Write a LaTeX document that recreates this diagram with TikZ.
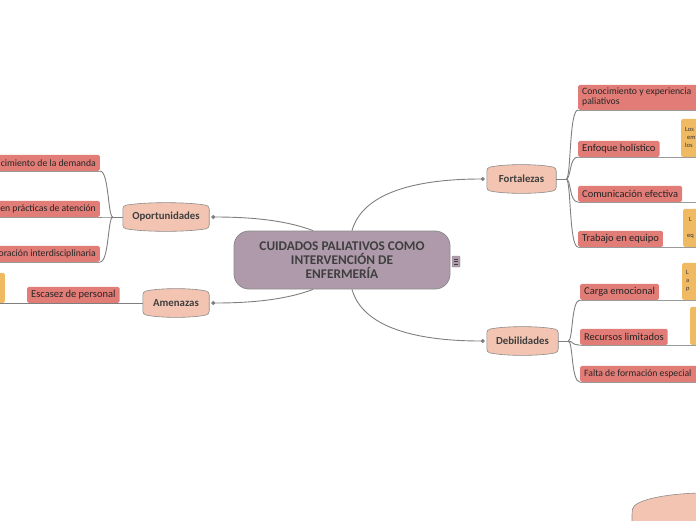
\documentclass[tikz,border=0pt]{standalone}
\usepackage{fontspec}
\setmainfont{Carlito}
\usetikzlibrary{arrows.meta,backgrounds,calc}
\definecolor{centralfill}{HTML}{AE9AAA}
\definecolor{topicfill}{HTML}{F2C4B1}
\definecolor{subfill}{HTML}{E27C76}
\definecolor{notefill}{HTML}{F0BA62}
\definecolor{linkgray}{HTML}{7F7F7F}
\definecolor{ulgray}{HTML}{9A9A9A}
\definecolor{bordergray}{HTML}{8C8C8C}
\definecolor{textdark}{HTML}{3F3F3F}
\newcommand{\topicpath}[1]{%
  \path[topicshape] (#1.north west) .. controls ([yshift=4pt]$(#1.north west)!.25!(#1.north east)$) and ([yshift=4pt]$(#1.north west)!.75!(#1.north east)$) .. (#1.north east) -- (#1.south east) .. controls ([yshift=-4pt]$(#1.south west)!.75!(#1.south east)$) and ([yshift=-4pt]$(#1.south west)!.25!(#1.south east)$) .. (#1.south west) -- cycle;}
\newcommand{\rtext}[1]{\makebox[124pt][r]{#1}}
\newcommand{\ltext}[1]{\makebox[124pt][l]{#1}}
\begin{document}
\begin{tikzpicture}[x=1pt,y=-1pt,
  central/.style={rounded corners=15pt, fill=centralfill, draw=bordergray, line width=0.8pt, minimum width=216pt, minimum height=58pt, inner sep=0pt, align=center, font=\bfseries\fontsize{13.3}{14}\selectfont, text=textdark},
  topic/.style={minimum height=22pt, inner sep=0pt, font=\bfseries\fontsize{10.8}{12}\selectfont, text=textdark},
  topicshape/.style={fill=topicfill, draw=bordergray, line width=0.6pt, rounded corners=3pt},
  sub/.style={fill=subfill, rounded corners=1.5pt, minimum height=16pt, inner xsep=4pt, inner ysep=0pt, font=\fontsize{10.5}{11.5}\selectfont, text=black!85},
  subsmall/.style={sub, font=\fontsize{9.7}{11.5}\selectfont},
  note/.style={fill=notefill, rounded corners=1.5pt, inner xsep=4pt, inner ysep=2pt, text width=50pt, font=\fontsize{6.5}{8}\selectfont, text=black!80, align=left},
  icon/.style={fill=centralfill, draw=bordergray, line width=0.4pt, rounded corners=1pt, minimum width=8pt, minimum height=11pt, inner sep=0pt},
  link/.style={draw=linkgray, line width=0.9pt},
  ul/.style={draw=ulgray, line width=0.8pt},
  dot/.style={-{Circle[length=4pt]}}
]
\useasboundingbox (0,0) rectangle (696,520);

% central topic
\node[central] (C) at (342,260) {CUIDADOS PALIATIVOS COMO\\INTERVENCIÓN DE\\ENFERMERÍA};
\node[icon] (ic) at (456,261.5) {};
\foreach \dy in {-2.5,0,2.5}{\draw[textdark, line width=0.5pt] ([xshift=-2pt,yshift=\dy pt]ic.center) -- ([xshift=2pt,yshift=\dy pt]ic.center);}

% main topics
\node[topic, minimum width=69pt] (F) at (521.5,179) {Fortalezas};
\node[topic, minimum width=71pt] (D) at (522.5,341) {Debilidades};
\node[topic, minimum width=86pt] (O) at (166,217) {Oportunidades};
\node[topic, minimum width=66pt] (A) at (176,303) {Amenazas};
\begin{scope}[on background layer]
  \topicpath{F}\topicpath{D}\topicpath{O}\topicpath{A}
  \path[topicshape] (632,525) -- (632,512) .. controls (634,500) and (665,494) .. (700,493) -- (700,525) -- cycle;
\end{scope}

% main connectors
\draw[link, dot] ([xshift=10pt]C.north) .. controls (362,195) and (410,179) .. ([xshift=-2pt]F.west);
\draw[link, dot] ([xshift=10pt]C.south) .. controls (362,325) and (410,341) .. ([xshift=-2pt]D.west);
\draw[link, dot] ([xshift=-29pt]C.north) .. controls (285,220) and (250,217) .. ([xshift=2pt]O.east);
\draw[link, dot] ([xshift=-29pt]C.south) .. controls (285,300) and (250,303) .. ([xshift=2pt]A.east);

% Fortalezas subtopics
\node[subsmall, anchor=south west, minimum height=25pt] (conoc) at (578,110) {\ltext{\begin{tabular}{@{}l@{}}Conocimiento y experiencia\\[-1.5pt]paliativos\end{tabular}}};
\node[sub, anchor=south west] (enf) at (578,157) {Enfoque holístico};
\node[sub, anchor=south west] (com) at (578,202) {Comunicación efectiva};
\node[sub, anchor=south west] (trab) at (578,247) {Trabajo en equipo};
\node[note, anchor=south west, minimum height=38pt] (enfN) at (681,157) {Los\\\hspace*{2pt}em\\los};
\node[note, anchor=south west, minimum height=38pt] (trabN) at (683,247) {\hspace*{2pt}L\\\mbox{}\\eq};
\coordinate (comR) at (700,202);

% Debilidades subtopics
\node[sub, anchor=south west] (carga) at (580,300) {Carga emocional};
\node[sub, anchor=south west] (rec) at (580,345) {Recursos limitados};
\node[subsmall, anchor=south west] (falta) at (580,382) {\ltext{Falta de formación especial}};
\node[note, anchor=south west, minimum height=37pt] (cargaN) at (682,300) {L\\a\\p};
\node[note, anchor=south west, minimum height=38pt] (recN) at (690,345) {};

% Oportunidades subtopics
\node[subsmall, anchor=south east] (crec) at (100,171) {\rtext{cimiento de la demanda}};
\node[subsmall, anchor=south east] (prac) at (100,217) {\rtext{en prácticas de atención}};
\node[subsmall, anchor=south east] (colab) at (100,262) {\rtext{oración interdisciplinaria}};

% Amenazas subtopic
\node[sub, anchor=south west] (esc) at (27,303) {Escasez de personal};
\node[note, anchor=south east, minimum height=30pt] (escN) at (5,303) {};

% underlines and branch connectors (right)
\coordinate (fj) at ([xshift=10pt]F.east);
\draw[link] (F.east) -- (fj);
\foreach \c in {conoc,enf,com,trab}{\draw[link] (fj) .. controls +(5,0) and +(-9,0) .. (\c.south west);}
\draw[ul] (conoc.south west) -- (conoc.south east);
\draw[ul] (enf.south west) -- (enfN.south east);
\draw[ul] (com.south west) -- (comR);
\draw[ul] (trab.south west) -- (trabN.south east);

\coordinate (dj) at ([xshift=10pt]D.east);
\draw[link] (D.east) -- (dj);
\foreach \c in {carga,rec,falta}{\draw[link] (dj) .. controls +(5,0) and +(-9,0) .. (\c.south west);}
\draw[ul] (carga.south west) -- (cargaN.south east);
\draw[ul] (rec.south west) -- (recN.south east);
\draw[ul] (falta.south west) -- (falta.south east);

% left
\coordinate (oj) at ([xshift=-10pt]O.west);
\draw[link] (O.west) -- (oj);
\foreach \c in {crec,prac,colab}{\draw[link] (oj) .. controls +(-5,0) and +(9,0) .. (\c.south east);}
\foreach \c in {crec,prac,colab}{\draw[ul] (\c.south west) -- (\c.south east);}
\draw[link] (A.west) -- (escN.south west);
\end{tikzpicture}
\end{document}
